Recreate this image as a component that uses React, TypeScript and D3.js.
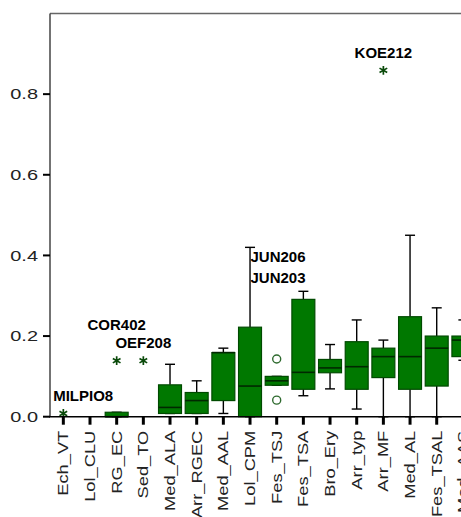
import React from "react";
import * as d3 from "d3";

const categories = [
  "Ech_VT", "Lol_CLU", "RG_EC", "Sed_TO", "Med_ALA", "Arr_RGEC", "Med_AAL", "Lol_CPM",
  "Fes_TSJ", "Fes_TSA", "Bro_Ery", "Arr_typ", "Arr_MF", "Med_AL", "Fes_TSAL", "Med_AAS",
];
const q1Values: (number | null)[] = [null, null, 0, null, 0.008, 0.008, 0.04, 0, 0.078, 0.068, 0.109, 0.068, 0.097, 0.068, 0.076, 0.149];
const medianValues: (number | null)[] = [null, null, 0, null, 0.023, 0.04, 0.159, 0.076, 0.089, 0.11, 0.121, 0.124, 0.149, 0.149, 0.17, 0.19];
const q3Values: (number | null)[] = [null, null, 0.011, null, 0.079, 0.06, 0.159, 0.222, 0.1, 0.291, 0.142, 0.186, 0.17, 0.248, 0.2, 0.2];
const whiskerLow: (number | null)[] = [null, null, 0, null, 0.008, 0.008, 0.008, 0, 0.078, 0.052, 0.069, 0.019, 0, 0, 0, 0.14];
const whiskerHigh: (number | null)[] = [null, null, 0.011, null, 0.13, 0.089, 0.17, 0.42, 0.1, 0.311, 0.179, 0.24, 0.19, 0.45, 0.27, 0.24];

// outliers: asterisk = extreme, circle = outlier
const outlierCats = ["Ech_VT", "RG_EC", "Sed_TO", "Arr_MF", "Fes_TSJ", "Fes_TSJ"];
const outlierValues = [0.008, 0.139, 0.139, 0.859, 0.143, 0.041];
const outlierKinds = ["extreme", "extreme", "extreme", "extreme", "outlier", "outlier"];
const outlierLabels = ["MILPIO8", "COR402", "OEF208", "KOE212", "", ""];

// case labels at the top of the Lol_CPM whisker
const whiskerLabelCat = "Lol_CPM";
const whiskerLabels = ["JUN206", "JUN203"];

const yTicks = [0, 0.2, 0.4, 0.6, 0.8];

const W = 461;
const H = 517;
const left = 50;
const top = 13.5;
const bottom = 416.7;
const band = 26.67;
const Y_STRETCH = 1.33;
const X_STRETCH = 1.22;

export default function App() {
  const y = d3.scaleLinear().domain([0, 1]).range([bottom, top]);
  const x = d3
    .scaleBand<string>()
    .domain(categories)
    .range([left, left + band * categories.length])
    .paddingInner(0)
    .paddingOuter(0);
  const cx = (c: string) => (x(c) as number) + x.bandwidth() / 2;
  const boxW = x.bandwidth() * 0.86;
  const capW = 10;
  const fmt = d3.format(".1f");

  const asterisk = d3.symbol().type(d3.symbolAsterisk).size(55)();

  // label placement with simple collision avoidance (right to left)
  const placed: { x0: number; x1: number; y0: number; y1: number }[] = [];
  const labelPos: ({ x: number; y: number } | null)[] = outlierLabels.map(() => null);
  const order = outlierLabels.map((_, i) => i).sort((a, b) => cx(outlierCats[b]) - cx(outlierCats[a]));
  order.forEach((i) => {
    const lab = outlierLabels[i];
    if (!lab) return;
    const w = lab.length * 9.2;
    const lx = Math.max(cx(outlierCats[i]), left + w / 2 + 1);
    let ly = y(outlierValues[i]) - 18;
    const overlaps = () =>
      placed.some((p) => lx - w / 2 < p.x1 && lx + w / 2 > p.x0 && ly - 7 < p.y1 && ly + 7 > p.y0);
    while (overlaps()) ly -= 18;
    placed.push({ x0: lx - w / 2, x1: lx + w / 2, y0: ly - 7, y1: ly + 7 });
    labelPos[i] = { x: lx, y: ly };
  });

  const fill = "#007800";
  const boxStroke = "#004a00";
  const tickFont = "'Liberation Sans', Arial, sans-serif";

  return (
    <svg
      width={W}
      height={H}
      style={{ position: "absolute", left: 0, top: 0, background: "#fff" }}
      fontFamily={tickFont}
    >
      <defs>
        <clipPath id="clip">
          <rect x={0} y={0} width={W} height={H} />
        </clipPath>
      </defs>
      <g clipPath="url(#clip)">
        {/* whiskers */}
        {categories.map((c, i) => {
          if (q1Values[i] == null) return null;
          const X = cx(c);
          return (
            <g key={"w" + c} stroke="#000" strokeWidth={1.4}>
              <line x1={X} x2={X} y1={y(whiskerHigh[i] as number)} y2={y(q3Values[i] as number)} />
              <line x1={X} x2={X} y1={y(whiskerLow[i] as number)} y2={y(q1Values[i] as number)} />
              <line x1={X - capW / 2} x2={X + capW / 2} y1={y(whiskerHigh[i] as number)} y2={y(whiskerHigh[i] as number)} />
              <line x1={X - capW / 2} x2={X + capW / 2} y1={y(whiskerLow[i] as number)} y2={y(whiskerLow[i] as number)} />
            </g>
          );
        })}
        {/* boxes */}
        {categories.map((c, i) => {
          if (q1Values[i] == null) return null;
          const X = cx(c);
          const yq3 = y(q3Values[i] as number);
          const yq1 = y(q1Values[i] as number);
          return (
            <g key={"b" + c}>
              <rect
                x={X - boxW / 2}
                y={yq3}
                width={boxW}
                height={Math.max(yq1 - yq3, 1)}
                fill={fill}
                stroke={boxStroke}
                strokeWidth={1.2}
              />
              <line
                x1={X - boxW / 2}
                x2={X + boxW / 2}
                y1={y(medianValues[i] as number)}
                y2={y(medianValues[i] as number)}
                stroke="#002800"
                strokeWidth={1.6}
              />
            </g>
          );
        })}
        {/* outliers */}
        {outlierCats.map((c, i) =>
          outlierKinds[i] === "extreme" ? (
            <path
              key={"o" + i}
              d={asterisk as string}
              transform={`translate(${cx(c)},${y(outlierValues[i])})`}
              fill="none"
              stroke="#0a4a0a"
              strokeWidth={1.7}
            />
          ) : (
            <circle
              key={"o" + i}
              cx={cx(c)}
              cy={y(outlierValues[i])}
              r={4}
              fill="#fff"
              stroke="#2e6a2e"
              strokeWidth={1.4}
            />
          )
        )}
        {/* outlier case labels */}
        {outlierLabels.map((lab, i) =>
          lab && labelPos[i] ? (
            <text
              key={"l" + i}
              x={labelPos[i]!.x}
              y={labelPos[i]!.y}
              textAnchor="middle"
              dominantBaseline="central"
              fontWeight="bold"
              fontSize={15}
              fill="#000"
            >
              {lab}
            </text>
          ) : null
        )}
        {whiskerLabels.map((lab, k) => {
          const i = categories.indexOf(whiskerLabelCat);
          return (
            <text
              key={"wl" + k}
              x={cx(whiskerLabelCat) + 0.5}
              y={y(whiskerHigh[i] as number) + 9 + k * 21}
              dominantBaseline="central"
              fontWeight="bold"
              fontSize={15}
              fill="#000"
            >
              {lab}
            </text>
          );
        })}

        {/* frame */}
        <line x1={left} x2={W + 5} y1={top} y2={top} stroke="#666" strokeWidth={1.5} />
        <line x1={left} x2={left} y1={top} y2={bottom} stroke="#444" strokeWidth={1.5} />
        <line x1={left - 1} x2={W + 5} y1={bottom} y2={bottom} stroke="#000" strokeWidth={1.5} />

        {/* y axis */}
        {yTicks.map((t) => (
          <g key={"yt" + t}>
            <line x1={left - 7} x2={left} y1={y(t)} y2={y(t)} stroke="#000" strokeWidth={2} />
            <text
              transform={`translate(${left - 12},${y(t)}) scale(${Y_STRETCH},1)`}
              textAnchor="end"
              dominantBaseline="central"
              fontSize={15}
              fill="#222"
            >
              {fmt(t)}
            </text>
          </g>
        ))}

        {/* x axis */}
        {categories.map((c) => (
          <g key={"xt" + c}>
            <line x1={cx(c)} x2={cx(c)} y1={bottom} y2={bottom + 8} stroke="#000" strokeWidth={3} />
            <text
              transform={`translate(${cx(c)},${bottom + 14}) rotate(-90) scale(${X_STRETCH},1)`}
              textAnchor="end"
              dominantBaseline="central"
              fontSize={15}
              fill="#222"
            >
              {c}
            </text>
          </g>
        ))}
      </g>
    </svg>
  );
}
